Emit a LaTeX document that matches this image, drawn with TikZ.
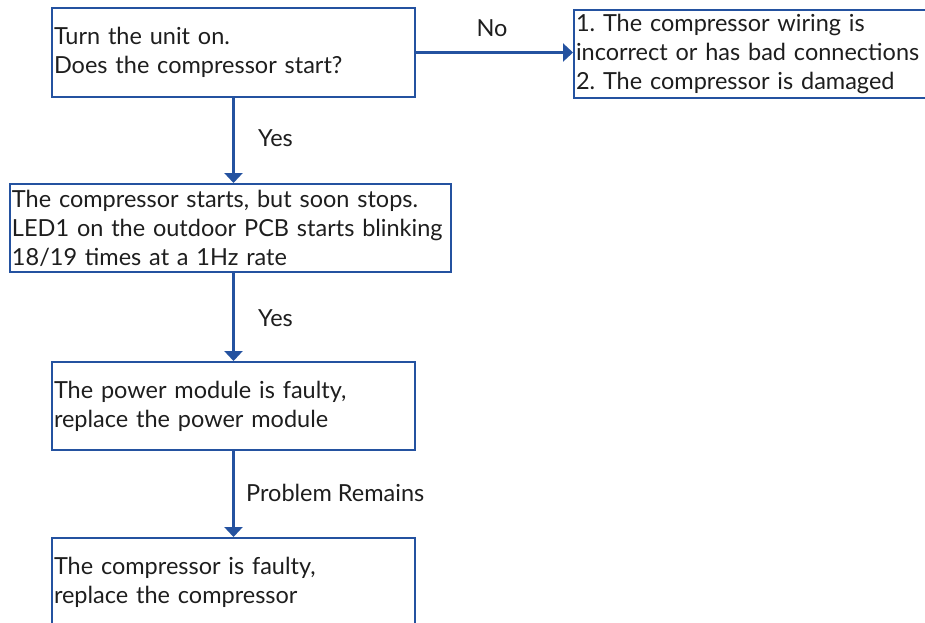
\documentclass[tikz,border=0pt]{standalone}
\usepackage{fontspec}
\setmainfont{Lato}
\usetikzlibrary{arrows.meta}
\definecolor{lineblue}{RGB}{36,82,160}
\definecolor{txt}{RGB}{30,30,30}
\frenchspacing
\begin{document}
\begin{tikzpicture}[x=1pt,y=1pt,
  every node/.style={text=txt,font=\fontsize{23.5}{29}\selectfont},
  stepbox/.style={draw=lineblue,line width=2pt,anchor=north west,align=left,
    inner xsep=2pt,inner ysep=0pt},
  flow/.style={draw=lineblue,line width=3pt,-{Triangle[width=18pt,length=10pt]}},
  lbl/.style={inner sep=0pt}]
\clip (0,0) rectangle (925,-622);
\fill[white] (0,0) rectangle (925,-622);
\node[stepbox,minimum width=363pt,minimum height=89pt,text width=359pt] (b1) at (51,-7)
  {Turn the unit on.\\Does the compressor start?};
\node[stepbox,minimum width=362pt,minimum height=88pt,text width=358pt] (b2) at (573,-9)
  {1. The compressor wiring is\\incorrect or has bad connections\\2. The compressor is damaged};
\node[stepbox,minimum width=441pt,minimum height=88pt,text width=437pt] (b3) at (9,-183)
  {The compressor starts, but soon stops.\\LED1 on the outdoor PCB starts blinking\\18/19 times at a 1Hz rate};
\node[stepbox,minimum width=363pt,minimum height=88pt,text width=359pt] (b4) at (51,-361)
  {The power module is faulty,\\replace the power module};
\node[stepbox,minimum width=363pt,minimum height=88pt,text width=359pt] (b5) at (51,-537)
  {The compressor is faulty,\\replace the compressor};
\draw[flow] (b1.south) -- (b1.south |- b3.north);
\draw[flow] (b3.south -| b4.north) -- (b4.north);
\draw[flow] (b4.south) -- (b5.north);
\draw[flow] (b1.east) -- (b1.east -| b2.west);
\node[lbl,anchor=west] (y1) at (258,-138) {Yes};
\node[lbl,anchor=west] (y2) at (258,-318) {Yes};
\node[lbl,anchor=west] (pr) at (246,-493) {Problem Remains};
\node[lbl] (no) at (492,-28) {No};
\end{tikzpicture}
\end{document}
